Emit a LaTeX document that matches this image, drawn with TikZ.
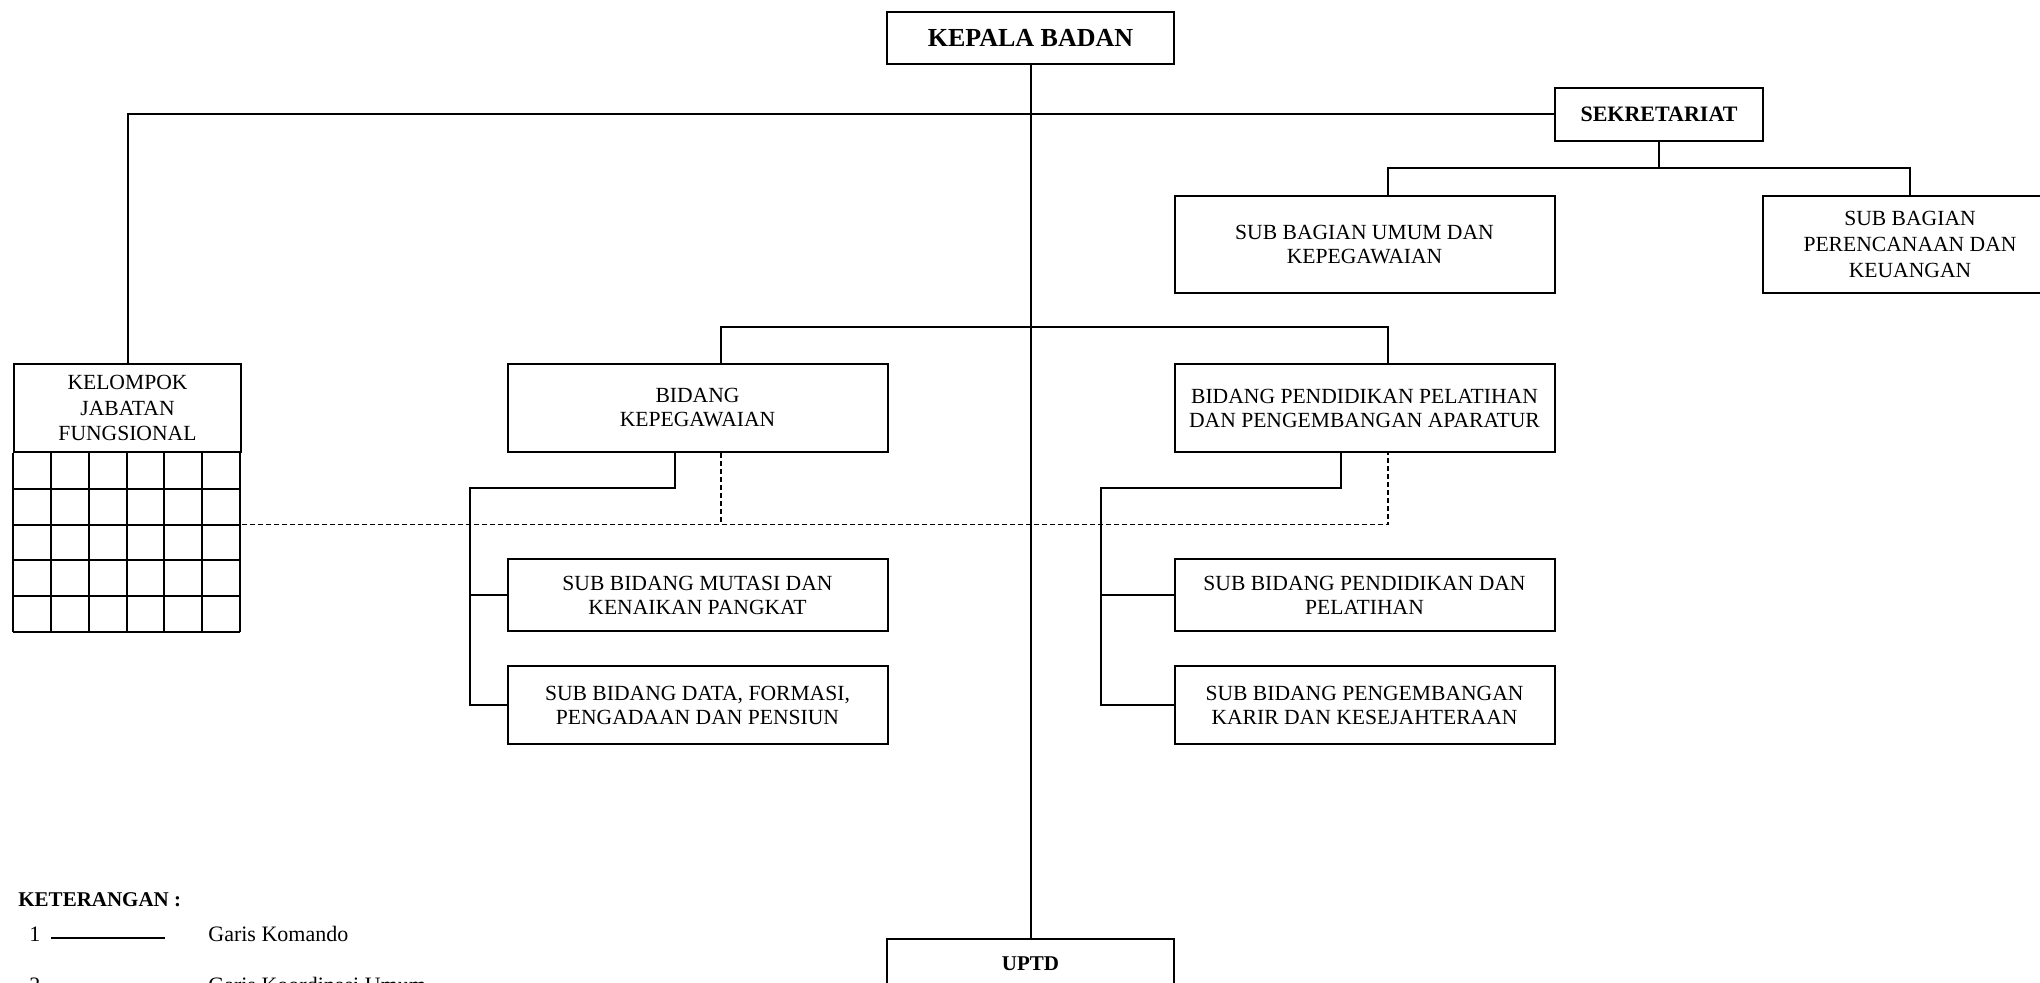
\documentclass[tikz,border=0pt]{standalone}
\usepackage{fontspec}
\setmainfont{Liberation Serif}

\begin{document}
\begin{tikzpicture}[x=0.5pt,y=-0.5pt,
box/.style = {draw, line width=1pt, fill=white, align=center, inner sep=0pt,
  font=\fontsize{10.8}{12}\selectfont},
wide/.style = {box, minimum width=190pt},
head/.style = {box, font=\bfseries\fontsize{11}{13}\selectfont},
legend/.style = {inner sep=0pt, font=\fontsize{11}{13}\selectfont},
komando/.style = {line width=1pt},
koord/.style = {line width=0.7pt, dash pattern=on 2.5pt off 1.5pt}]
\useasboundingbox (0,0) rectangle (2040,983);
\clip (0,0) rectangle (2040,983);

\node[head, font=\bfseries\fontsize{13}{15}\selectfont, minimum width=143.5pt, minimum height=26pt] (kepala) at (1030.5,38) {KEPALA BADAN};
\node[head, minimum width=104pt, minimum height=26.5pt] (sekre) at (1659,114.5) {SEKRETARIAT};
\node[wide, minimum height=48.5pt] (subumum) at (1364.5,244.5) {SUB BAGIAN UMUM DAN\\KEPEGAWAIAN};
\node[box, font=\fontsize{10.8}{12.8}\selectfont, minimum width=147pt, minimum height=48.5pt] (subrenc) at (1910,244.5) {SUB BAGIAN\\PERENCANAAN DAN\\KEUANGAN};
\node[box, font=\fontsize{10.8}{12.6}\selectfont, minimum width=113.5pt, minimum height=44pt] (kelompok) at (127.5,408) {KELOMPOK\\JABATAN\\FUNGSIONAL};
\node[wide, minimum height=44pt] (bidkep) at (697.5,408) {BIDANG\\KEPEGAWAIAN};
\node[wide, minimum height=44pt] (bidpend) at (1364.5,408) {BIDANG PENDIDIKAN PELATIHAN\\DAN PENGEMBANGAN APARATUR};
\node[wide, minimum height=36pt] (submutasi) at (697.5,595) {SUB BIDANG MUTASI DAN\\KENAIKAN PANGKAT};
\node[wide, minimum height=39pt] (subdata) at (697.5,705) {SUB BIDANG DATA, FORMASI,\\PENGADAAN DAN PENSIUN};
\node[wide, minimum height=36pt] (subdiklat) at (1364.5,595) {SUB BIDANG PENDIDIKAN DAN\\PELATIHAN};
\node[wide, minimum height=39pt] (subkarir) at (1364.5,705) {SUB BIDANG PENGEMBANGAN\\KARIR DAN KESEJAHTERAAN};
\node[head, font=\bfseries\fontsize{10.5}{12}\selectfont, minimum width=143.5pt, minimum height=25pt] (uptd) at (1030.5,964) {UPTD};

% tabel jabatan fungsional
\foreach \i in {0,...,6}
  \draw[komando] ([xshift=\i*18.917pt]kelompok.south west) -- ++(0,179);
\foreach \j in {1,...,5}
  \draw[komando] ([yshift=-\j*17.9pt]kelompok.south west) -- ++(227,0);
\coordinate (gridR) at ([yshift=-35.8pt]kelompok.south east);

% garis komando
\draw[komando] (kepala.south) -- (uptd.north);
\draw[komando] (kelompok.north) |- (sekre.west);
\draw[komando] (sekre.south) -- ++(0,26.5) coordinate (sekbus);
\draw[komando] ([xshift=11.75pt]subumum.north) |- (sekbus) -| (subrenc.north);
\draw[komando] ([xshift=11.75pt]bidkep.north) -- ++(0,-36) -| ([xshift=11.75pt]bidpend.north);
\draw[komando] ([xshift=-11.25pt]bidkep.south) -- ++(0,35) -- ++(-205,0) coordinate (bkbus) |- (submutasi.west);
\draw[komando] (bkbus) |- (subdata.west);
\draw[komando] ([xshift=-11.75pt]bidpend.south) -- ++(0,35) -- ++(-240,0) coordinate (bpbus) |- (subdiklat.west);
\draw[komando] (bpbus) |- (subkarir.west);

% garis koordinasi
\draw[koord] (gridR) -| ([xshift=11.75pt]bidpend.south);
\draw[koord] ([xshift=11.75pt]bidkep.south) coordinate (bkd) -- (bkd |- gridR);

% keterangan
\node[legend, anchor=base west, font=\bfseries\fontsize{10.5}{12}\selectfont] (ket) at (18,906) {KETERANGAN :};
\node[legend, anchor=base west] (no1) at (29,941) {1};
\draw[komando] ([xshift=5pt,yshift=1.5pt]no1.base east) -- ++(114,0);
\node[legend, anchor=base west] (garis1) at (208,941) {Garis Komando};
\node[legend, anchor=base west] (no2) at (29,992) {2};
\draw[koord] ([xshift=5pt,yshift=1.5pt]no2.base east) -- ++(114,0);
\node[legend, anchor=base west] (garis2) at (208,992) {Garis Koordinasi Umum};
\end{tikzpicture}
\end{document}
